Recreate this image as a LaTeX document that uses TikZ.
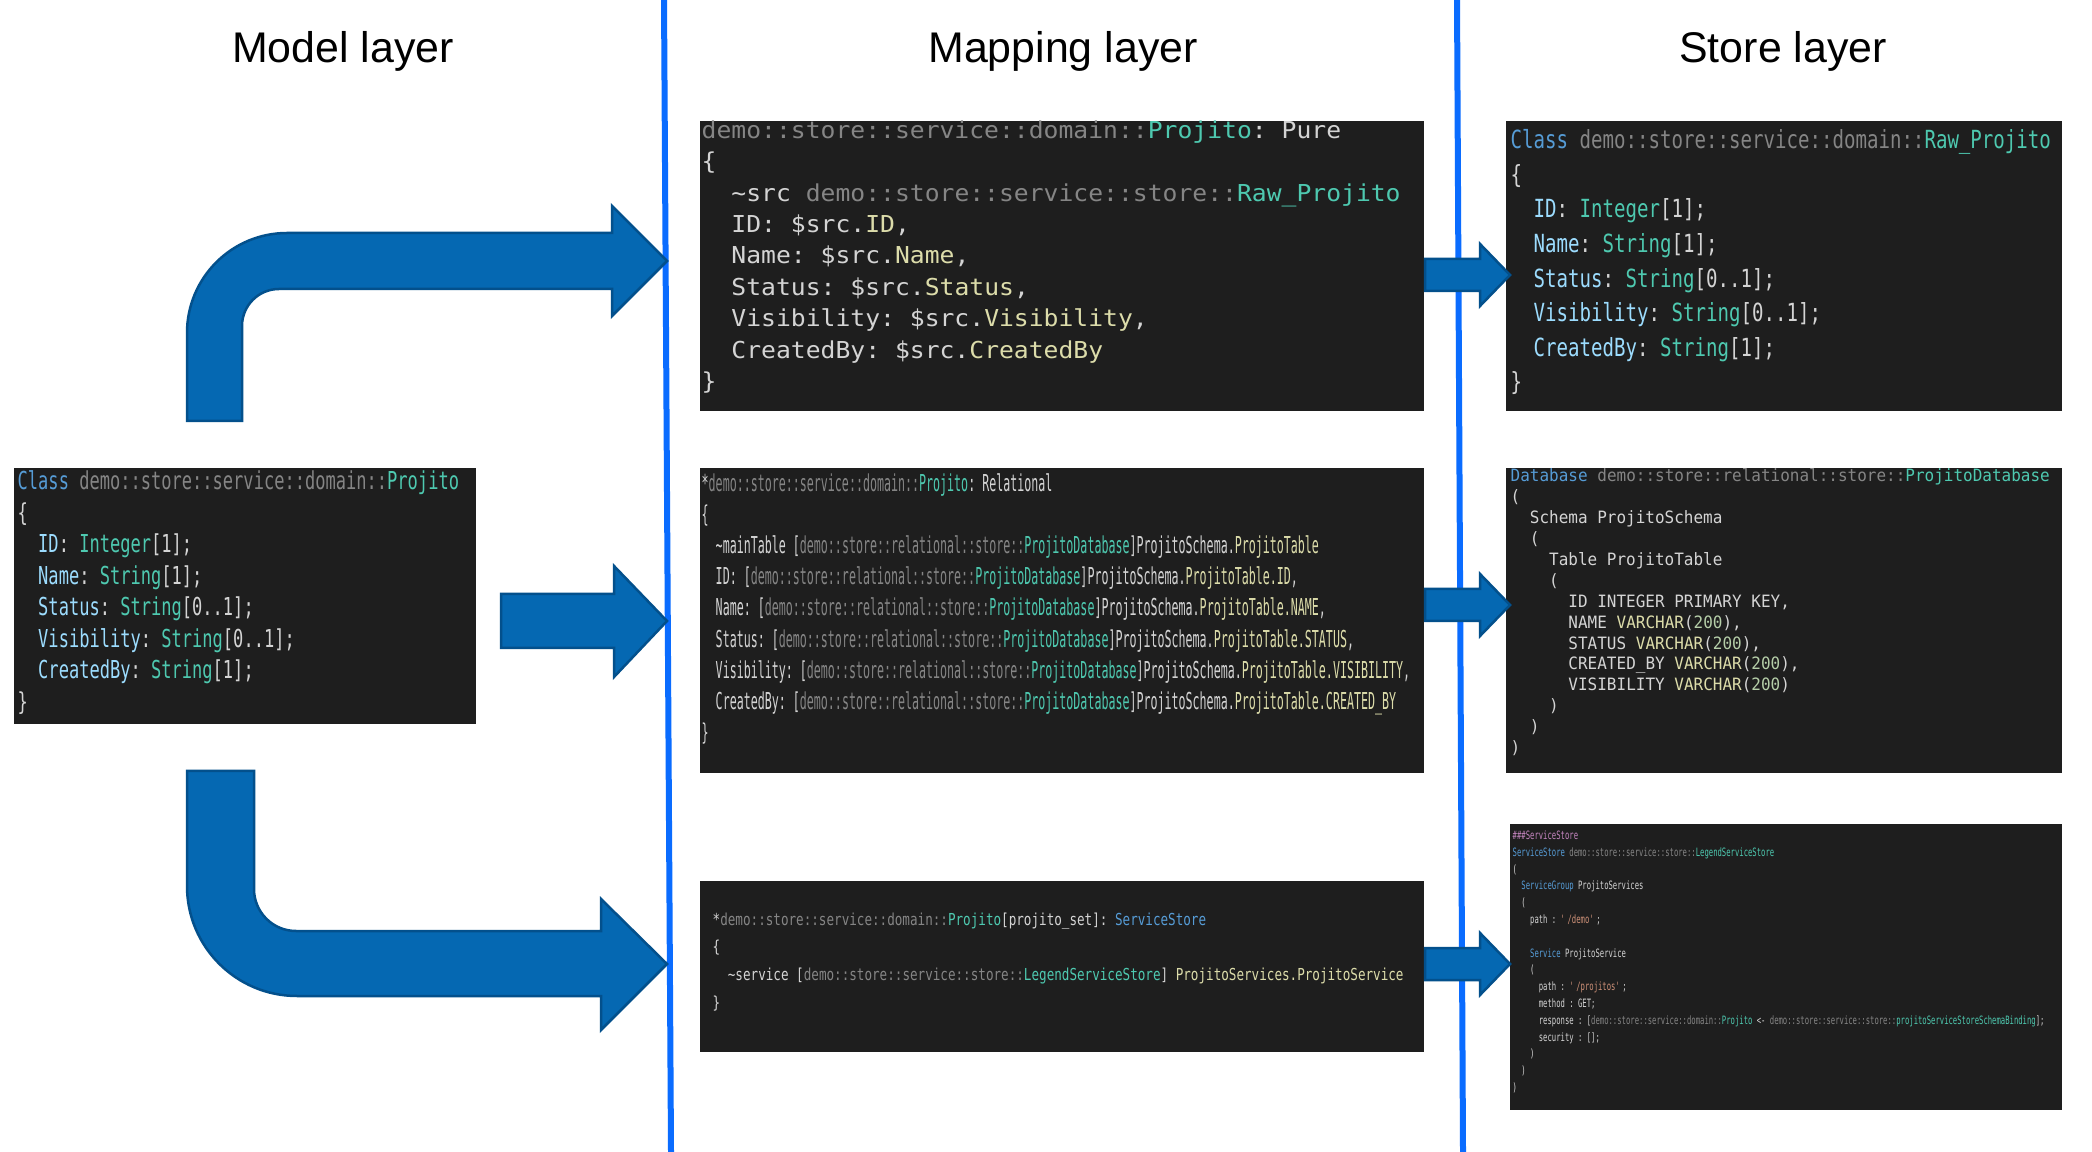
\documentclass[tikz,border=0pt]{standalone}
\usepackage{fontspec}
\usepackage{xcolor}
\usepackage{tikz}
\usetikzlibrary{positioning}
\newfontfamily\titlefont{Liberation Sans}
\newcommand{\codefont}[3]{\fontspec{DejaVu Sans Mono}[FakeStretch=#1]\fontsize{#2}{#3}\selectfont\frenchspacing}

\definecolor{codebg}{HTML}{1E1E1E}
\definecolor{codefg}{HTML}{D4D4D4}
\definecolor{kwblue}{HTML}{569CD6}
\definecolor{pathgray}{HTML}{858585}
\definecolor{clsteal}{HTML}{4EC9B0}
\definecolor{propblue}{HTML}{9CDCFE}
\definecolor{fnyellow}{HTML}{DCDCAA}
\definecolor{numgreen}{HTML}{B5CEA8}
\definecolor{strorange}{HTML}{CE9178}
\definecolor{macpurple}{HTML}{C586C0}
\definecolor{arrowfill}{RGB}{5,104,178}
\definecolor{arrowedge}{RGB}{3,80,140}
\definecolor{layerblue}{RGB}{10,108,255}

\newcommand{\kw}[1]{\textcolor{kwblue}{#1}}
\newcommand{\pth}[1]{\textcolor{pathgray}{#1}}
\newcommand{\cls}[1]{\textcolor{clsteal}{#1}}
\newcommand{\prp}[1]{\textcolor{propblue}{#1}}
\newcommand{\ylw}[1]{\textcolor{fnyellow}{#1}}
\newcommand{\numb}[1]{\textcolor{numgreen}{#1}}
\newcommand{\strg}[1]{\textcolor{strorange}{#1}}
\newcommand{\pur}[1]{\textcolor{macpurple}{#1}}
\newcommand{\indA}{\hphantom{xx}}
\newcommand{\indB}{\hphantom{xxxx}}
\newcommand{\indC}{\hphantom{xxxxxx}}

\tikzstyle{codebox} = [rectangle, fill=codebg, inner sep=0pt, anchor=north west]
\tikzstyle{codetext} = [inner sep=0pt, anchor=north west, align=left, text=codefg]
\tikzstyle{modelcode} = [codetext, font=\codefont{0.69}{7.03pt}{8.96pt}]
\tikzstyle{puremap} = [codetext, font=\codefont{1.06}{6.63pt}{8.93pt}]
\tikzstyle{relmap} = [codetext, font=\codefont{0.50}{6.63pt}{8.85pt}]
\tikzstyle{servmap} = [codetext, font=\codefont{0.765}{4.69pt}{7.88pt}]
\tikzstyle{rawclass} = [codetext, font=\codefont{0.764}{7.11pt}{9.84pt}]
\tikzstyle{dbcode} = [codetext, font=\codefont{0.94}{4.84pt}{5.95pt}]
\tikzstyle{servcode} = [codetext, font=\codefont{0.63}{3.27pt}{4.78pt}]
\tikzstyle{layertitle} = [font=\titlefont\fontsize{12.2pt}{14pt}\selectfont, anchor=base, inner sep=0pt]
\tikzstyle{layerline} = [draw=layerblue, line width=0.6mm]
\tikzstyle{bigarrow} = [fill=arrowfill, draw=arrowedge, line width=0.25mm, line join=miter]

\begin{document}
\begin{tikzpicture}[x=0.1mm, y=-0.1mm]
\useasboundingbox (0,0) rectangle (2092,1152);
\fill[white] (0,0) rectangle (2092,1152);

% titles
\node[layertitle] (modeltitle) at (343,63) {Model layer};
\node[layertitle] (mappingtitle) at (1063,63) {Mapping layer};
\node[layertitle] (storetitle) at (1783,63) {Store layer};

% layer borders
\draw[layerline] (664,0) -- (671,1152);
\draw[layerline] (1457,0) -- (1463,1152);

% screenshot boxes
\node[codebox, minimum width=46.2mm, minimum height=25.6mm] (modelbox) at (13,467) {};
\node[codebox, minimum width=72.4mm, minimum height=29mm] (purebox) at (699,120) {};
\node[codebox, minimum width=72.4mm, minimum height=30.5mm] (relbox) at (699,467) {};
\node[codebox, minimum width=72.4mm, minimum height=17.1mm] (servmapbox) at (699,880) {};
\node[codebox, minimum width=55.6mm, minimum height=29mm] (rawbox) at (1505,120) {};
\node[codebox, minimum width=55.6mm, minimum height=30.5mm] (dbbox) at (1505,467) {};
\node[codebox, minimum width=55.2mm, minimum height=28.6mm] (servbox) at (1509,823) {};

% model class
\node[modelcode] (modeltext) at (17,470) {%
\kw{Class} \pth{demo::store::service::domain::}\cls{Projito}\\
\{\\
\indA\prp{ID}: \cls{Integer}[1];\\
\indA\prp{Name}: \cls{String}[1];\\
\indA\prp{Status}: \cls{String}[0..1];\\
\indA\prp{Visibility}: \cls{String}[0..1];\\
\indA\prp{CreatedBy}: \cls{String}[1];\\
\}};

% mappings
\node[puremap] (puretext) at (701,120) {%
\pth{demo::store::service::domain::}\cls{Projito}: Pure\\
\{\\
\indA\textasciitilde src \pth{demo::store::service::store::}\cls{Raw\_Projito}\\
\indA ID: \$src.\ylw{ID},\\
\indA Name: \$src.\ylw{Name},\\
\indA Status: \$src.\ylw{Status},\\
\indA Visibility: \$src.\ylw{Visibility},\\
\indA CreatedBy: \$src.\ylw{CreatedBy}\\
\}};

\node[relmap] (reltext) at (701,473) {%
*\pth{demo::store::service::domain::}\cls{Projito}: Relational\\
\{\\
\indA\textasciitilde mainTable [\pth{demo::store::relational::store::}\cls{ProjitoDatabase}]ProjitoSchema.\ylw{ProjitoTable}\\
\indA ID: [\pth{demo::store::relational::store::}\cls{ProjitoDatabase}]ProjitoSchema.\ylw{ProjitoTable.ID},\\
\indA Name: [\pth{demo::store::relational::store::}\cls{ProjitoDatabase}]ProjitoSchema.\ylw{ProjitoTable.NAME},\\
\indA Status: [\pth{demo::store::relational::store::}\cls{ProjitoDatabase}]ProjitoSchema.\ylw{ProjitoTable.STATUS},\\
\indA Visibility: [\pth{demo::store::relational::store::}\cls{ProjitoDatabase}]ProjitoSchema.\ylw{ProjitoTable.VISIBILITY},\\
\indA CreatedBy: [\pth{demo::store::relational::store::}\cls{ProjitoDatabase}]ProjitoSchema.\ylw{ProjitoTable.CREATED\_BY}\\
\}};

\node[servmap] (servmaptext) at (712,912) {%
*\pth{demo::store::service::domain::}\cls{Projito}[projito\_set]: \kw{ServiceStore}\\
\{\\
\indA\textasciitilde service [\pth{demo::store::service::store::}\cls{LegendServiceStore}] \ylw{ProjitoServices.ProjitoService}\\
\}};

% stores
\node[rawclass] (rawtext) at (1510,129) {%
\kw{Class} \pth{demo::store::service::domain::}\cls{Raw\_Projito}\\
\{\\
\indA\prp{ID}: \cls{Integer}[1];\\
\indA\prp{Name}: \cls{String}[1];\\
\indA\prp{Status}: \cls{String}[0..1];\\
\indA\prp{Visibility}: \cls{String}[0..1];\\
\indA\prp{CreatedBy}: \cls{String}[1];\\
\}};

\node[dbcode] (dbtext) at (1510,468) {%
\kw{Database} \pth{demo::store::relational::store::}\cls{ProjitoDatabase}\\
(\\
\indA Schema ProjitoSchema\\
\indA (\\
\indB Table ProjitoTable\\
\indB (\\
\indC ID INTEGER PRIMARY KEY,\\
\indC NAME \ylw{VARCHAR}(\numb{200}),\\
\indC STATUS \ylw{VARCHAR}(\numb{200}),\\
\indC CREATED\_BY \ylw{VARCHAR}(\numb{200}),\\
\indC VISIBILITY \ylw{VARCHAR}(\numb{200})\\
\indB )\\
\indA )\\
)};

\node[servcode] (servtext) at (1512,830) {%
\pur{\#\#\#ServiceStore}\\
\kw{ServiceStore} \pth{demo::store::service::store::}\cls{LegendServiceStore}\\
(\\
\indA\kw{ServiceGroup} ProjitoServices\\
\indA (\\
\indB path : \strg{\textquotesingle/demo\textquotesingle};\\
\mbox{}\\
\indB\kw{Service} ProjitoService\\
\indB (\\
\indC path : \strg{\textquotesingle/projitos\textquotesingle};\\
\indC method : GET;\\
\indC response : [\pth{demo::store::service::domain::}\cls{Projito} <- \pth{demo::store::service::store::}\cls{projitoServiceStoreSchemaBinding}];\\
\indC security : [];\\
\indB )\\
\indA )\\
)};

% big arrows from the model
\draw[bigarrow] (187,421) -- (187,333) arc[start angle=180, end angle=90, radius=10mm]
  -- (612,233) -- (612,206) -- (667,261) -- (612,316) -- (612,289) -- (279,289)
  arc[start angle=90, end angle=180, radius=3.7mm] -- (242,421) -- cycle;
\draw[bigarrow] (501,594) -- (614,594) -- (614,566) -- (667,621) -- (614,677) -- (614,648) -- (501,648) -- cycle;
\draw[bigarrow] (187,771) -- (187,886) arc[start angle=180, end angle=270, radius=11mm]
  -- (601,996) -- (601,1030) -- (667,964) -- (601,899) -- (601,931) -- (296,931)
  arc[start angle=270, end angle=180, radius=4.2mm] -- (254,771) -- cycle;

% small arrows to the stores
\draw[bigarrow] (1425,259) -- (1480,259) -- (1480,244) -- (1510,275) -- (1480,306) -- (1480,291) -- (1425,291) -- cycle;
\draw[bigarrow] (1425,589) -- (1480,589) -- (1480,574) -- (1510,605) -- (1480,636) -- (1480,621) -- (1425,621) -- cycle;
\draw[bigarrow] (1425,948) -- (1480,948) -- (1480,933) -- (1510,964) -- (1480,995) -- (1480,980) -- (1425,980) -- cycle;
\end{tikzpicture}
\end{document}
